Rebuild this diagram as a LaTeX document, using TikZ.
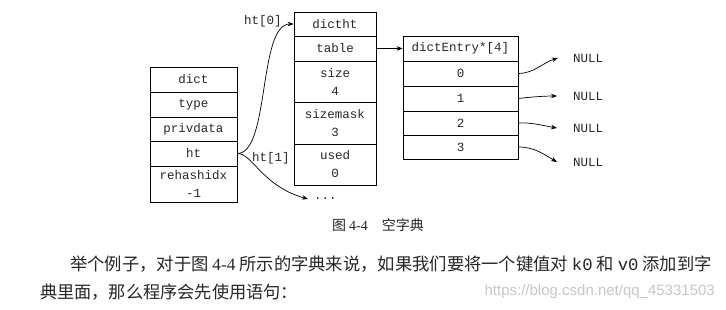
\documentclass[tikz,border=0pt]{standalone}
\usepackage{fontspec}
\setmainfont{Liberation Serif}
\setmonofont{Liberation Mono}
\newfontfamily\cjk{Noto Sans CJK SC}
\newfontfamily\wmfont{Liberation Sans}
\usetikzlibrary{arrows.meta}
\begin{document}
\begin{tikzpicture}[x=1pt,y=-1pt,
  cell/.style={draw, line width=0.8pt, inner sep=0pt, align=center,
    font=\fontsize{12.5}{18}\ttfamily, text=black!85},
  lbl/.style={inner sep=0pt, font=\fontsize{12.5}{15}\ttfamily, text=black!85},
  link/.style={line width=0.7pt, -{Stealth[length=6pt,width=4.5pt]}},
]
\useasboundingbox (0,0) rectangle (726,309);
% dict
\node[cell, minimum width=87pt, minimum height=25pt] (dict) at (193.5,79.5) {dict};
\node[cell, minimum width=87pt, minimum height=25pt] (type) at (193.5,104.5) {type};
\node[cell, minimum width=87pt, minimum height=24pt] (priv) at (193.5,129) {privdata};
\node[cell, minimum width=87pt, minimum height=25pt] (ht) at (193.5,153.5) {ht};
\node[cell, minimum width=87pt, minimum height=36pt] (rehash) at (193.5,184) {rehashidx\\-1};
% dictht
\node[cell, minimum width=82pt, minimum height=24pt] (dictht) at (335,24) {dictht};
\node[cell, minimum width=82pt, minimum height=25pt] (table) at (335,48.5) {table};
\node[cell, minimum width=82pt, minimum height=41pt] (size) at (335,81.5) {size\\4};
\node[cell, minimum width=82pt, minimum height=42pt] (smask) at (335,123) {sizemask\\3};
\node[cell, minimum width=82pt, minimum height=41pt] (used) at (335,164.5) {used\\0};
% dictEntry array
\node[cell, minimum width=115pt, minimum height=25pt] (arr) at (460.5,48.5) {dictEntry*[4]};
\node[cell, minimum width=115pt, minimum height=25pt] (e0) at (460.5,73.5) {0};
\node[cell, minimum width=115pt, minimum height=25pt] (e1) at (460.5,98.5) {1};
\node[cell, minimum width=115pt, minimum height=24pt] (e2) at (460.5,123) {2};
\node[cell, minimum width=115pt, minimum height=24pt] (e3) at (460.5,147) {3};
% NULL labels
\node[lbl, anchor=west] (n0) at (573,58) {NULL};
\node[lbl, anchor=west] (n1) at (573,96) {NULL};
\node[lbl, anchor=west] (n2) at (573,128) {NULL};
\node[lbl, anchor=west] (n3) at (573,162) {NULL};
% labels
\node[lbl] (l0) at (263,21) {ht[0]};
\node[lbl] (l1) at (271,158) {ht[1]};
\node[lbl, anchor=west] (dots) at (314,199) {...};
% connectors
\draw[link] (ht.east) .. controls (270,153) and (258,24) .. (dictht.west);
\draw[link] (ht.east) .. controls (252,153) and (262,186) .. ([xshift=-6pt]dots.west);
\draw[link] (table.east) -- (arr.west);
\draw[link] (e0.east) .. controls (535,73) and (542,63) .. ([xshift=-15pt]n0.west);
\draw[link] (e1.east) .. controls (530,97) and (545,96) .. ([xshift=-16pt]n1.west);
\draw[link] (e2.east) .. controls (530,122) and (545,126) .. ([xshift=-16pt]n2.west);
\draw[link] (e3.east) .. controls (535,147) and (545,155) .. ([xshift=-16pt]n3.west);
% caption and text
\node[inner sep=0pt, font=\fontsize{14}{16}\cjk, text=black!85] (cap) at (378,225) {图 {\rmfamily 4-4}\quad 空字典};
\node[inner sep=0pt, anchor=west, font=\fontsize{17.3}{20}\cjk, text=black!85] (p1) at (70,264)
  {举个例子，对于图 {\rmfamily 4-4} 所示的字典来说，如果我们要将一个键值对 {\ttfamily k0} 和 {\ttfamily v0} 添加到字};
\node[inner sep=0pt, anchor=west, font=\fontsize{17.2}{20}\cjk, text=black!85] (p2) at (40,292)
  {典里面，那么程序会先使用语句：};
\node[inner sep=0pt, anchor=east, font=\fontsize{15}{18}\wmfont, text=black!22] (wm) at (715,292)
  {https://blog.csdn.net/qq\_45331503};
\end{tikzpicture}
\end{document}
